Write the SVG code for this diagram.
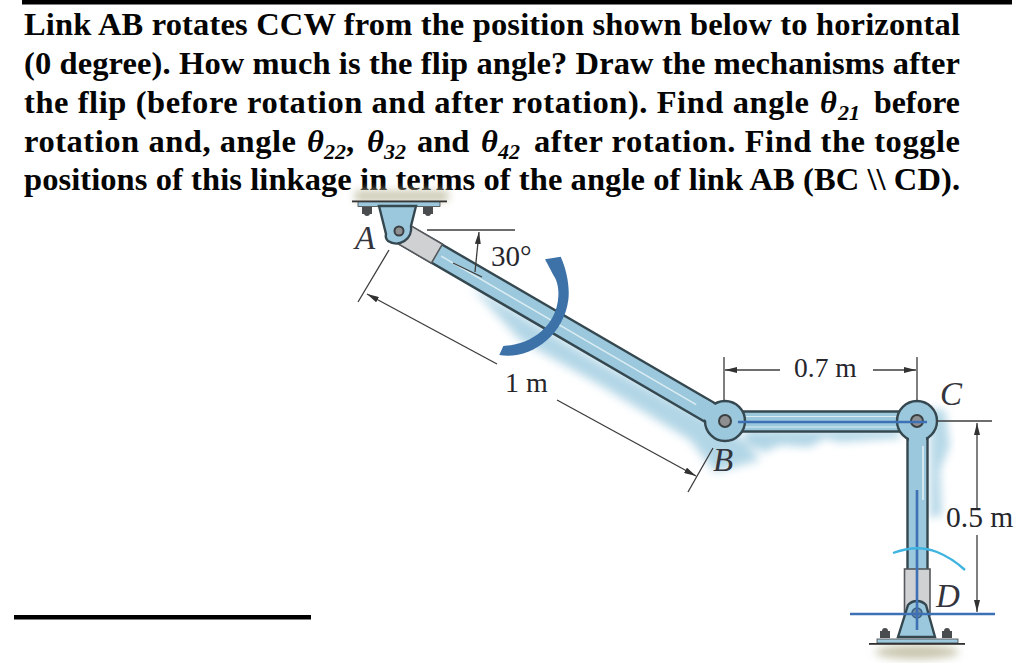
<svg xmlns="http://www.w3.org/2000/svg" width="1024" height="663" viewBox="0 0 1024 663">
<style>
.q{font:bold 32.5px "Liberation Serif",serif;fill:#050505}
.qi{font:italic bold 32.5px "Liberation Serif",serif;fill:#050505}
.qs{font:italic bold 22px "Liberation Serif",serif}
.l{font-family:"Liberation Serif",serif;fill:#26262c}
.n{font:italic 33px "Liberation Serif",serif;fill:#34343c}
.d{fill:none;stroke:#3c3c3c;stroke-width:1.3}
.o{fill:none;stroke:#34474f;stroke-linecap:butt}
.b{fill:#9bc8dc;stroke:#34474f;stroke-width:2.4}
.g{fill:#d0d1d3;stroke:#55595c;stroke-width:1.6}
.p{fill:#8d8f90;stroke:#3a3f42;stroke-width:2}
.c{fill:none;stroke:#3c6fb4;stroke-width:2.6}
.nut{fill:#4a4d4f}
</style>
<defs>
<marker id="ar" viewBox="0 0 12 6" refX="12" refY="3" markerWidth="12" markerHeight="6" markerUnits="userSpaceOnUse" orient="auto"><path d="M0 0L12 3L0 6Z" fill="#333"/></marker>
<filter id="bl" x="-30%" y="-30%" width="160%" height="160%"><feGaussianBlur stdDeviation="5"/></filter>
<filter id="bl2" x="-30%" y="-80%" width="160%" height="260%"><feGaussianBlur stdDeviation="4"/></filter>
<filter id="soft" x="-5%" y="-5%" width="110%" height="110%"><feGaussianBlur stdDeviation="0.5"/></filter>
</defs>
<rect width="1024" height="663" fill="#fff"/>
<rect x="22" y="0" width="990" height="4.5" fill="#000"/>
<rect x="14" y="615" width="297" height="4.5" fill="#000"/>

<g id="question">
<text class="q" x="24" y="35" textLength="936" lengthAdjust="spacing">Link AB rotates CCW from the position shown below to horizontal</text>
<text class="q" x="24" y="74" textLength="936" lengthAdjust="spacing">(0 degree). How much is the flip angle? Draw the mechanisms after</text>
<text class="q" x="24" y="113" textLength="785" lengthAdjust="spacing">the flip (before rotation and after rotation). Find angle</text>
<text class="qi" x="820" y="113">θ<tspan class="qs" dy="7" dx="1">21</tspan></text>
<text class="q" x="874" y="113" textLength="86" lengthAdjust="spacingAndGlyphs">before</text>
<text class="q" x="24" y="152" textLength="272" lengthAdjust="spacing">rotation and, angle</text>
<text class="qi" x="307" y="152">θ<tspan class="qs" dy="7">22</tspan><tspan class="q" dy="-7">,</tspan></text>
<text class="qi" x="367" y="152">θ<tspan class="qs" dy="7">32</tspan></text>
<text class="q" x="417" y="152">and</text>
<text class="qi" x="481" y="152">θ<tspan class="qs" dy="7">42</tspan></text>
<text class="q" x="534" y="152" textLength="426" lengthAdjust="spacing">after rotation. Find the toggle</text>
<text class="q" x="24" y="190" textLength="936" lengthAdjust="spacing">positions of this linkage in terms of the angle of link AB (BC \\ CD).</text>
</g>

<g id="shading">
<path d="M355 191H448V201H355Z" fill="#c8c6ae" filter="url(#bl2)"/>
<path d="M470 285L600 362L700 415L745 440L760 460L715 472L690 440L600 385L520 340Z" fill="#a5cfe2" filter="url(#bl)" opacity=".85"/>
<path d="M745 430H900V438L840 442L825 438L810 447L780 445L765 452L745 445Z" fill="#a5cfe2" filter="url(#bl2)" opacity=".85"/>
<path d="M930 408L945 410L950 445L940 470L942 515L930 518Z" fill="#a5cfe2" filter="url(#bl2)" opacity=".8"/>
<ellipse cx="917" cy="652" rx="42" ry="7" fill="#c8c6ae" filter="url(#bl2)"/>
</g>

<g id="mechanism" filter="url(#soft)">
<g id="connectors">
<g id="link-AB" transform="translate(398 231) rotate(30.2)">
<rect x="0" y="-10.500" width="378" height="21" fill="#9bc8dc"/>
<path class="o" stroke-width="2.400" d="M0 -10.500H372M0 10.500H372"/>
<path d="M50 0H345" stroke="#dcecf3" stroke-width="1.500" fill="none"/>
<rect class="g" x="4" y="-11" width="41" height="22"/>
</g>
<g id="link-BC">
<rect x="725" y="411.500" width="192" height="20" fill="#9bc8dc"/>
<path class="o" stroke-width="2.400" d="M725 411.500H917M725 431.500H917"/>
<path d="M745 416.500H900M745 427H900" stroke="#dcecf3" stroke-width="1.200" fill="none"/>
</g>
<g id="link-CD">
<rect x="907" y="421" width="21" height="150" fill="#9bc8dc"/>
<path class="o" stroke-width="2.400" d="M907.500 430V570M927.500 430V570"/>
<path d="M923 436V500" stroke="#e4f1f6" stroke-width="1.500" fill="none"/>
<rect class="g" x="904.500" y="569" width="25.500" height="46"/>
</g>
</g>

<g id="node-A">
<rect x="352" y="200.500" width="95" height="1.800" fill="#333"/>
<rect x="358" y="202" width="82" height="4.500" fill="#9bc8dc" stroke="#444" stroke-width=".8"/>
<rect class="nut" x="362" y="207" width="10" height="7"/><rect class="nut" x="423" y="207" width="10" height="7"/>
<circle class="nut" cx="367" cy="213" r="3"/><circle class="nut" cx="428" cy="213" r="3"/>
<path class="b" d="M379 206H416L411 226A15 15 0 0 1 388 241Q385 238 386 234Z"/>
<circle class="p" cx="399" cy="231" r="4.500"/>
</g>

<g id="node-B">
<circle class="b" cx="725" cy="421" r="20"/>
<path d="M700 406.500L713 414" stroke="#9bc8dc" stroke-width="18"/>
<circle class="p" cx="725" cy="421" r="6"/>
</g>

<g id="node-C">
<circle class="b" cx="917" cy="421" r="20"/>
<path d="M909 438H926V446H909Z" fill="#9bc8dc"/>
<circle class="p" cx="917" cy="421" r="6"/>
</g>

<g id="node-D">
<path class="b" d="M898 637L908 605A12 12 0 0 1 926 605L935 637Z" stroke-width="1.500"/>
<circle cx="917" cy="613" r="5" fill="#6d8b9e" stroke="#3c5f85" stroke-width="1.500"/>
<rect class="nut" x="880" y="631" width="10" height="7"/><rect class="nut" x="942" y="631" width="10" height="7"/>
<circle class="nut" cx="885" cy="631" r="3"/><circle class="nut" cx="947" cy="631" r="3"/>
<rect x="877" y="639" width="81" height="4" fill="#9bc8dc" stroke="#444" stroke-width=".8"/>
<rect x="869" y="643" width="96" height="1.800" fill="#333"/>
</g>

<g id="dimensions">
<path class="d" d="M427 230H515M453 263L482 277"/>
<path class="d" d="M475 272L479 232" marker-end="url(#ar)"/>
<path class="d" d="M389 250L358 302M713 448L688 492"/>
<path class="d" d="M497 364L367 294" marker-end="url(#ar)"/>
<path class="d" d="M557 400L696 476" marker-end="url(#ar)"/>
<path class="d" d="M724 357V400M917 357V400"/>
<path class="d" d="M780 370H725" marker-end="url(#ar)"/>
<path class="d" d="M873 370H916" marker-end="url(#ar)"/>
<path class="d" d="M937 421H992"/>
<path class="d" d="M977 510V423" marker-end="url(#ar)"/>
<path class="d" d="M977 535V612" marker-end="url(#ar)"/>
<path d="M738 422H927" class="c"/>
<path d="M917 490V630M850 614H995" class="c"/>
<path d="M893 553Q917 544 937 552Q952 558 965 570" fill="none" stroke="#3fb4e0" stroke-width="2.400"/>
<path id="rotation-arrow" d="M499.300 355L503.300 346C530 345 556.700 326.700 558.300 296.700C559 286.700 556.700 280 553.300 275L545 259.300L560.700 256.700C566.700 270 570 286.700 568.300 300C563.300 336.700 530 360 499.300 355Z" fill="#3d72a8"/>
</g>
</g>

<g id="labels">
<text class="n" x="355" y="249">A</text>
<text class="n" x="713" y="471">B</text>
<text class="n" x="940" y="405">C</text>
<text class="n" x="936" y="607">D</text>
<text class="l" font-size="29" x="491" y="266">30°</text>
<text class="l" font-size="28" x="505" y="392">1 m</text>
<text class="l" font-size="27.500" x="794" y="377">0.7 m</text>
<text class="l" font-size="29.500" x="946" y="527">0.5 m</text>
</g>
</svg>
